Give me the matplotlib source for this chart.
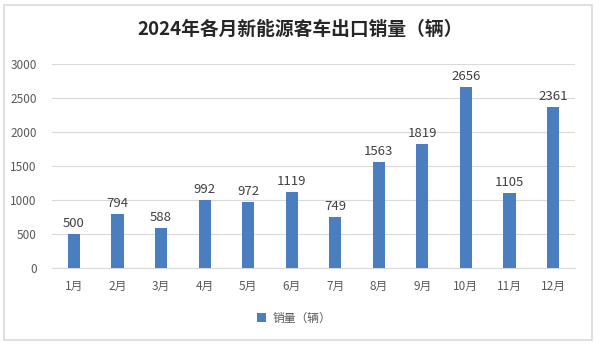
import matplotlib.pyplot as plt
from matplotlib.patches import Rectangle

plt.rcParams['font.family'] = ['Noto Sans CJK SC', 'DejaVu Sans']

# 2024年各月新能源客车出口销量
months = ['1月', '2月', '3月', '4月', '5月', '6月', '7月', '8月', '9月', '10月', '11月', '12月']
sales = [500, 794, 588, 992, 972, 1119, 749, 1563, 1819, 2656, 1105, 2361]

fig = plt.figure(figsize=(6, 3.47), dpi=100)
ax = fig.add_axes([0.087, 0.228, 0.871, 0.588])

# 外框
fig.patches.append(Rectangle((0.007, 0.02), 0.98, 0.965, transform=fig.transFigure,
                             fill=False, edgecolor='#d9d9d9', linewidth=1.2))

x = range(len(months))
bars = ax.bar(x, sales, width=0.28, color='#4a7ebf', label='销量（辆）', zorder=3)

for xi, v in zip(x, sales):
    ax.text(xi, v + 60, str(v), ha='center', va='bottom', fontsize=9.5, color='#404040')

ax.set_xlim(-0.5, 11.5)
ax.set_ylim(0, 3000)
ax.set_yticks(range(0, 3001, 500))
ax.set_xticks(list(x))
ax.set_xticklabels(months)
ax.tick_params(axis='both', length=0, labelsize=8.5, colors='#595959')
ax.tick_params(axis='y', pad=11)
ax.tick_params(axis='x', pad=9)
ax.grid(axis='y', color='#d9d9d9', linewidth=0.8, zorder=0)
for s in ['left', 'right', 'top']:
    ax.spines[s].set_visible(False)
ax.spines['bottom'].set_color('#d9d9d9')

fig.text(0.5, 0.915, '2024年各月新能源客车出口销量（辆）', ha='center', va='center',
         fontsize=13.5, fontweight='bold', color='#262626')

fig.legend(loc='center', bbox_to_anchor=(0.49, 0.083), frameon=False, fontsize=8.5,
           handlelength=0.8, handleheight=0.8, handletextpad=0.5, labelcolor='#595959')

fig.savefig('out.png', dpi=100)
